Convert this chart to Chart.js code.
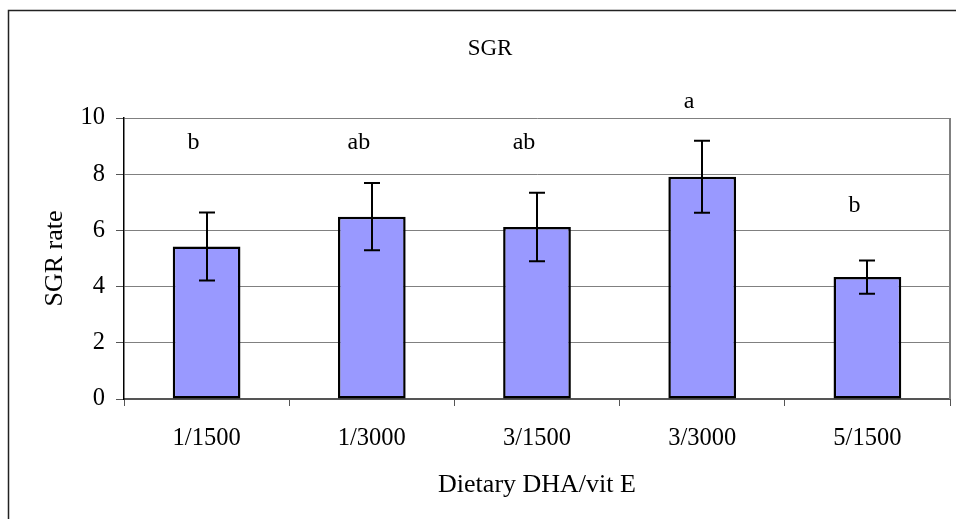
<!DOCTYPE html>
<html><head><meta charset="utf-8">
<script src="https://cdn.jsdelivr.net/npm/chart.js@4/dist/chart.umd.min.js"></script>
<style>html,body{margin:0;padding:0;background:#fff}#wrap{width:956px;height:519px}</style>
</head><body><div id="wrap"><canvas id="c" width="956" height="519"></canvas></div>
<script>
const categories = ["1/1500", "1/3000", "3/1500", "3/3000", "5/1500"];
const sgrValues = [5.43, 6.49, 6.12, 7.91, 4.34];
const sgrErrors = [1.21, 1.20, 1.22, 1.28, 0.59];
const letters = ["b", "ab", "ab", "a", "b"];
const letterLevels = [8.9, 8.9, 8.9, 10.36, 6.65];
const yTicks = [0, 2, 4, 6, 8, 10];

const FONT = "'Liberation Serif', 'Times New Roman', serif";

const extras = {
  id: 'extras',
  beforeDraw(chart) {
    const ctx = chart.ctx;
    ctx.save();
    ctx.fillStyle = '#fff';
    ctx.fillRect(0, 0, chart.width, chart.height);
    ctx.strokeStyle = '#222';
    ctx.lineWidth = 1.5;
    ctx.beginPath();
    ctx.moveTo(8.5, 519);
    ctx.lineTo(8.5, 10.5);
    ctx.lineTo(956, 10.5);
    ctx.stroke();
    ctx.restore();
  },
  afterDatasetsDraw(chart) {
    const ctx = chart.ctx;
    const ys = chart.scales.y;
    const ca = chart.chartArea;
    ctx.save();
    ctx.strokeStyle = '#808080';
    ctx.lineWidth = 2;
    ctx.beginPath();
    ctx.moveTo(ca.right, ca.top);
    ctx.lineTo(ca.right, ca.bottom);
    ctx.stroke();
    ctx.strokeStyle = '#000';
    ctx.lineWidth = 2;
    const meta = chart.getDatasetMeta(0);
    sgrValues.forEach((v, i) => {
      const x = Math.round(meta.data[i].x);
      const yt = ys.getPixelForValue(v + sgrErrors[i]);
      const yb = ys.getPixelForValue(v - sgrErrors[i]);
      ctx.beginPath();
      ctx.moveTo(x, yt); ctx.lineTo(x, yb);
      ctx.moveTo(x - 8, yt); ctx.lineTo(x + 8, yt);
      ctx.moveTo(x - 8, yb); ctx.lineTo(x + 8, yb);
      ctx.stroke();
    });
    ctx.fillStyle = '#000';
    ctx.font = '24px ' + FONT;
    ctx.textAlign = 'center';
    ctx.textBaseline = 'alphabetic';
    letters.forEach((t, i) => {
      const x = meta.data[i].x - 13;
      ctx.fillText(t, x, ys.getPixelForValue(letterLevels[i]));
    });
    ctx.font = '23px ' + FONT;
    ctx.fillText('SGR', 490, 55);
    ctx.font = '26px ' + FONT;
    ctx.fillText('Dietary DHA/vit E', (ca.left + ca.right) / 2, 492);
    ctx.save();
    ctx.translate(62, (ca.top + ca.bottom) / 2);
    ctx.rotate(-Math.PI / 2);
    ctx.fillText('SGR rate', 0, 0);
    ctx.restore();
    ctx.restore();
  }
};

new Chart(document.getElementById('c'), {
  type: 'bar',
  data: {
    labels: categories,
    datasets: [{
      data: sgrValues,
      backgroundColor: '#9999FF',
      borderColor: '#000',
      borderWidth: 2.5,
      borderSkipped: false,
      categoryPercentage: 1,
      barPercentage: 0.41
    }]
  },
  options: {
    responsive: false,
    animation: false,
    devicePixelRatio: 1,
    layout: { padding: { left: 24, right: 6, top: 118, bottom: 20 } },
    plugins: { legend: { display: false }, title: { display: false }, tooltip: { enabled: false } },
    scales: {
      x: {
        afterFit(s) { s.height = 100; },
        grid: { drawOnChartArea: false, drawTicks: true, tickLength: 7, color: '#555', offset: true },
        border: { color: '#555', width: 2 },
        ticks: { color: '#000', font: { family: FONT, size: 24.5 }, padding: 18 }
      },
      y: {
        min: 0, max: 10,
        afterFit(s) { s.width = 100; },
        afterBuildTicks(s) { s.ticks = yTicks.map(v => ({ value: v })); },
        grid: { color: '#808080', lineWidth: 1, tickLength: 8, tickColor: '#555' },
        border: { color: '#000', width: 1.5 },
        ticks: { color: '#000', font: { family: FONT, size: 24.5 }, padding: 11 }
      }
    }
  },
  plugins: [extras]
});
</script></body></html>
